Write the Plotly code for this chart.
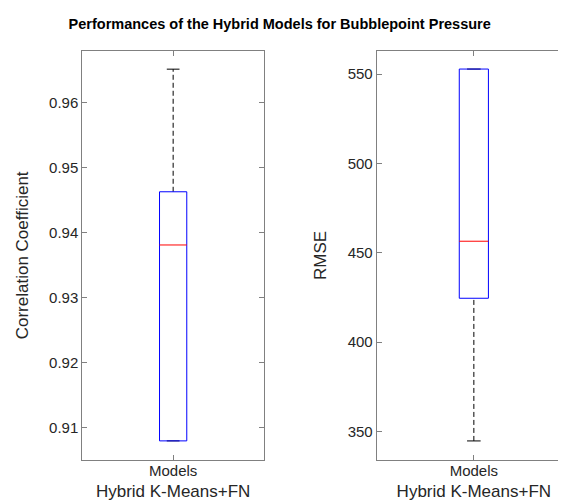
import plotly.graph_objects as go

# ---- data ----
categories = ["Models"]
group_label = "Hybrid K-Means+FN"
# [lower whisker, q1, median, q3, upper whisker]
corr_stats = [0.9079, 0.9079, 0.9381, 0.9463, 0.9652]
rmse_stats = [344.8, 424.6, 456.5, 552.8, 552.8]
corr_ticks = [0.91, 0.92, 0.93, 0.94, 0.95, 0.96]
rmse_ticks = [350, 400, 450, 500, 550]

W, H = 566, 504
FONT = "Liberation Sans, Arial, sans-serif"
AX = "#808080"
TXT = "#262626"

fig = go.Figure()

def add_box(stats, xa, ya):
    lo, q1, med, q3, hi = stats
    c = 1
    bw = 0.075
    cw = 0.035
    common = dict(xaxis=xa, yaxis=ya, mode="lines", showlegend=False, hoverinfo="skip")
    # whiskers (dashed black)
    fig.add_trace(go.Scatter(x=[c, c], y=[q3, hi], line=dict(color="black", width=1, dash="5px,3px"), **common))
    fig.add_trace(go.Scatter(x=[c, c], y=[lo, q1], line=dict(color="black", width=1, dash="5px,3px"), **common))
    # caps
    fig.add_trace(go.Scatter(x=[c - cw, c + cw], y=[hi, hi], line=dict(color="black", width=1), **common))
    fig.add_trace(go.Scatter(x=[c - cw, c + cw], y=[lo, lo], line=dict(color="black", width=1), **common))
    # box
    fig.add_trace(go.Scatter(x=[c - bw, c + bw, c + bw, c - bw, c - bw],
                             y=[q1, q1, q3, q3, q1], line=dict(color="#0000FF", width=1), **common))
    # median
    fig.add_trace(go.Scatter(x=[c - bw, c + bw], y=[med, med], line=dict(color="#FF0000", width=1), **common))

add_box(corr_stats, "x", "y")
add_box(rmse_stats, "x2", "y2")

def xaxis(domain, anchor):
    return dict(domain=domain, anchor=anchor, range=[0.5, 1.5], tickvals=[1], ticktext=categories,
                showline=True, linecolor=AX, linewidth=1, mirror="allticks", ticks="inside",
                ticklen=5, tickcolor=AX, showgrid=False, zeroline=False, ticklabelstandoff=-3,
                tickfont=dict(family=FONT, size=15, color=TXT),
                title=dict(text=group_label, font=dict(family=FONT, size=17, color=TXT), standoff=7))

def yaxis(domain, anchor, rng, tv, fmt, title):
    return dict(domain=domain, anchor=anchor, range=rng, tickvals=tv, tickformat=fmt,
                showline=True, linecolor=AX, linewidth=1, mirror="allticks", ticks="inside",
                ticklen=5, tickcolor=AX, showgrid=False, zeroline=False,
                tickfont=dict(family=FONT, size=15, color=TXT),
                title=dict(text=title, font=dict(family=FONT, size=17, color=TXT), standoff=16))

ydom = [1 - 451.7 / H, 1 - 43 / H]
fig.update_layout(
    width=W, height=H,
    margin=dict(l=0, r=0, t=0, b=0),
    paper_bgcolor="white", plot_bgcolor="white",
    xaxis=xaxis([74.3 / W, 256 / W], "y"),
    yaxis=yaxis(ydom, "x", [0.905, 0.968], corr_ticks, ".2f", "Correlation Coefficient"),
    xaxis2=xaxis([368.7 / W, 563 / W], "y2"),
    yaxis2=yaxis(ydom, "x2", [334.3, 562.9], rmse_ticks, "d", "RMSE"),
    title=dict(text="<b>Performances of the Hybrid Models for Bubblepoint Pressure</b>",
               x=271.7 / W, xanchor="center", y=1 - 16 / H, yanchor="middle",
               font=dict(family=FONT, size=14.5, color="black")),
)

fig.write_html("out.html")
